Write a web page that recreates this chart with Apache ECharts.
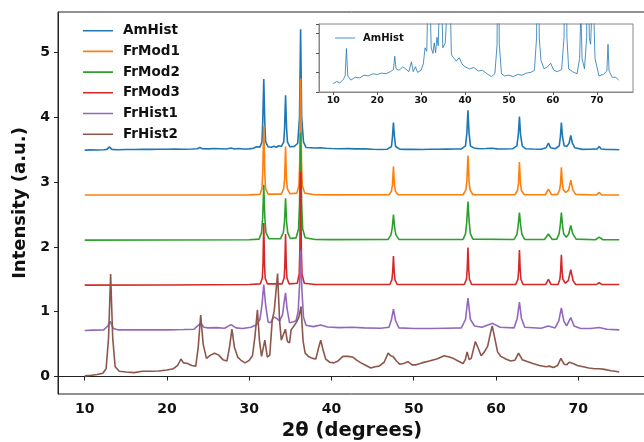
<!DOCTYPE html>
<html>
<head>
<meta charset="utf-8">
<script src="https://cdn.jsdelivr.net/npm/echarts@6/dist/echarts.min.js"></script>
<style>
html,body{margin:0;padding:0;background:#fff;}
#chart{width:644px;height:442px;}
</style>
</head>
<body>
<div id="chart"></div>
<script>
// ---- data (2θ in degrees, intensity in a.u.) ----
const seriesNames = ['AmHist','FrMod1','FrMod2','FrMod3','FrHist1','FrHist2'];
const xTicks = [10,20,30,40,50,60,70];
const yTicks = [0,1,2,3,4,5];

const AmHist = [[10,3.494],[10.8,3.497],[11.5,3.495],[12.3,3.500],[12.7,3.505],[13.0,3.544],[13.3,3.505],[14,3.499],[15,3.503],[16,3.502],[17,3.506],[18,3.505],[19,3.508],[20,3.507],[21,3.509],[22,3.508],[23,3.511],[23.7,3.514],[24.0,3.533],[24.3,3.515],[25,3.513],[25.8,3.518],[26.5,3.515],[27.2,3.511],[27.8,3.525],[28.2,3.511],[28.7,3.518],[29.2,3.510],[30,3.513],[30.5,3.522],[30.9,3.545],[31.3,3.540],[31.55,3.62],[31.64,3.90],[31.77,4.59],[31.9,3.90],[32.0,3.62],[32.3,3.545],[32.7,3.537],[33.0,3.552],[33.3,3.538],[33.6,3.560],[33.9,3.548],[34.2,3.62],[34.3,3.82],[34.42,4.34],[34.55,3.82],[34.65,3.62],[34.95,3.545],[35.5,3.552],[35.9,3.60],[36.12,4.0],[36.25,5.36],[36.38,4.0],[36.6,3.62],[36.9,3.535],[37.5,3.530],[38,3.526],[38.7,3.531],[39.3,3.522],[40,3.518],[41,3.515],[42,3.517],[43,3.512],[44,3.513],[45,3.508],[46,3.504],[46.8,3.508],[47.3,3.55],[47.42,3.70],[47.54,3.92],[47.66,3.70],[47.8,3.55],[48.3,3.508],[49,3.505],[50,3.506],[51,3.504],[52,3.507],[53,3.506],[54,3.509],[55,3.510],[55.8,3.513],[56.3,3.56],[56.47,3.76],[56.60,4.11],[56.73,3.76],[56.9,3.56],[57.3,3.527],[58,3.515],[58.8,3.518],[59.5,3.523],[60.2,3.513],[61,3.511],[62,3.514],[62.55,3.56],[62.73,3.74],[62.86,4.01],[62.99,3.74],[63.2,3.56],[63.6,3.515],[64.5,3.511],[65.5,3.508],[66.1,3.53],[66.38,3.60],[66.65,3.53],[67.2,3.515],[67.7,3.56],[67.84,3.70],[67.96,3.92],[68.1,3.70],[68.3,3.56],[68.6,3.55],[68.9,3.60],[69.10,3.72],[69.3,3.60],[69.6,3.53],[70.5,3.505],[71.5,3.507],[72.3,3.512],[72.56,3.55],[72.8,3.512],[73.5,3.503],[74.3,3.503],[75,3.499]];

const FrMod1 = [[10,2.800],[20,2.801],[30,2.803],[31.3,2.81],[31.55,2.90],[31.65,3.15],[31.77,3.87],[31.89,3.15],[31.99,2.90],[32.3,2.815],[33.9,2.815],[34.2,2.90],[34.31,3.05],[34.42,3.55],[34.53,3.05],[34.64,2.90],[34.95,2.82],[35.8,2.83],[36.05,2.95],[36.14,3.30],[36.25,4.60],[36.36,3.30],[36.45,2.95],[36.75,2.83],[38,2.805],[40,2.803],[47.0,2.805],[47.3,2.86],[47.42,2.96],[47.54,3.24],[47.66,2.96],[47.78,2.86],[48.1,2.805],[56.0,2.805],[56.35,2.88],[56.47,3.02],[56.60,3.41],[56.73,3.02],[56.85,2.88],[57.2,2.805],[62.3,2.805],[62.62,2.87],[62.74,2.98],[62.86,3.31],[62.98,2.98],[63.1,2.87],[63.45,2.805],[66.0,2.805],[66.38,2.89],[66.75,2.805],[67.5,2.81],[67.75,2.88],[67.85,2.97],[67.96,3.23],[68.08,2.97],[68.2,2.88],[68.5,2.84],[68.85,2.88],[69.10,3.03],[69.35,2.88],[69.7,2.81],[72.2,2.80],[72.56,2.84],[72.9,2.80],[75,2.80]];

const FrMod2 = [[10,2.105],[20,2.107],[30,2.11],[31.2,2.12],[31.5,2.22],[31.64,2.45],[31.77,2.96],[31.9,2.45],[32.04,2.22],[32.4,2.125],[33.8,2.125],[34.15,2.22],[34.29,2.38],[34.42,2.75],[34.55,2.38],[34.69,2.22],[35.0,2.13],[35.7,2.14],[36.0,2.28],[36.12,2.65],[36.25,3.76],[36.38,2.65],[36.5,2.28],[36.8,2.14],[38,2.115],[40,2.112],[46.9,2.115],[47.25,2.19],[47.4,2.30],[47.54,2.50],[47.68,2.30],[47.83,2.19],[48.2,2.115],[56.0,2.115],[56.3,2.20],[56.45,2.38],[56.60,2.70],[56.75,2.38],[56.9,2.20],[57.2,2.12],[62.2,2.115],[62.55,2.19],[62.7,2.32],[62.86,2.53],[63.02,2.32],[63.17,2.19],[63.5,2.115],[65.9,2.115],[66.38,2.20],[66.85,2.115],[67.4,2.12],[67.68,2.20],[67.82,2.33],[67.96,2.53],[68.1,2.33],[68.24,2.20],[68.55,2.15],[68.85,2.20],[69.10,2.33],[69.35,2.20],[69.75,2.12],[72.1,2.11],[72.56,2.15],[73.0,2.11],[75,2.11]];

const FrMod3 = [[10,1.41],[20,1.412],[30,1.42],[31.35,1.43],[31.6,1.52],[31.68,1.75],[31.77,2.37],[31.86,1.75],[31.94,1.52],[32.2,1.43],[34.0,1.43],[34.25,1.52],[34.33,1.70],[34.42,2.20],[34.51,1.70],[34.59,1.52],[34.85,1.43],[35.85,1.44],[36.08,1.58],[36.16,1.95],[36.25,3.16],[36.34,1.95],[36.42,1.58],[36.7,1.44],[38,1.42],[47.1,1.42],[47.35,1.49],[47.45,1.62],[47.54,1.86],[47.63,1.62],[47.73,1.49],[48.0,1.42],[56.15,1.42],[56.42,1.50],[56.51,1.66],[56.60,1.99],[56.69,1.66],[56.78,1.50],[57.05,1.42],[62.4,1.42],[62.68,1.50],[62.77,1.65],[62.86,1.95],[62.95,1.65],[63.04,1.50],[63.3,1.42],[66.05,1.42],[66.38,1.50],[66.7,1.42],[67.55,1.42],[67.78,1.50],[67.87,1.63],[67.96,1.88],[68.05,1.63],[68.14,1.50],[68.45,1.44],[68.8,1.48],[69.10,1.65],[69.38,1.48],[69.7,1.42],[72.25,1.42],[72.56,1.45],[72.85,1.42],[75,1.42]];

const FrHist1 = [[10,0.71],[11,0.715],[12.3,0.72],[12.8,0.78],[13.1,0.85],[13.5,0.74],[14,0.72],[16,0.72],[18,0.722],[20,0.72],[22,0.725],[23.3,0.73],[23.8,0.79],[24.1,0.82],[24.5,0.76],[25,0.75],[26,0.755],[27,0.745],[27.8,0.80],[28.4,0.75],[29.2,0.74],[30.2,0.76],[30.9,0.80],[31.3,0.88],[31.55,1.10],[31.77,1.42],[32.0,1.10],[32.3,0.84],[32.6,0.83],[33.0,0.92],[33.3,0.90],[33.7,0.86],[34.05,0.95],[34.25,1.15],[34.42,1.29],[34.6,1.05],[34.9,0.83],[35.3,0.84],[35.7,0.86],[35.95,1.0],[36.12,1.40],[36.25,1.95],[36.4,1.35],[36.6,0.92],[36.9,0.79],[37.8,0.77],[38.7,0.795],[39.5,0.765],[41,0.755],[42.5,0.76],[44,0.75],[46,0.745],[47.0,0.76],[47.3,0.88],[47.54,1.04],[47.8,0.86],[48.2,0.75],[50,0.74],[52,0.74],[54,0.745],[55.8,0.75],[56.3,0.88],[56.6,1.21],[56.9,0.88],[57.4,0.78],[58.3,0.76],[59.6,0.82],[60.5,0.76],[62.2,0.75],[62.6,0.90],[62.86,1.15],[63.1,0.90],[63.5,0.76],[65.5,0.745],[66.38,0.78],[67.2,0.75],[67.65,0.86],[67.96,1.06],[68.25,0.86],[68.6,0.78],[69.1,0.91],[69.5,0.78],[70.3,0.74],[71.5,0.74],[72.56,0.755],[73.5,0.73],[75,0.72]];

const FrHist2 = [[10,0.01],[10.8,0.02],[11.5,0.03],[12.2,0.05],[12.6,0.12],[12.9,0.6],[13.15,1.58],[13.4,0.6],[13.7,0.15],[14.2,0.08],[15,0.07],[16,0.06],[17,0.08],[18,0.08],[19,0.085],[20,0.10],[20.8,0.12],[21.3,0.17],[21.7,0.27],[22.0,0.21],[22.5,0.20],[23.0,0.17],[23.5,0.16],[23.8,0.45],[24.1,0.95],[24.4,0.50],[24.8,0.28],[25.3,0.33],[25.8,0.36],[26.3,0.33],[26.8,0.26],[27.3,0.24],[27.6,0.45],[27.9,0.73],[28.2,0.45],[28.6,0.30],[29.0,0.25],[29.5,0.21],[30.0,0.25],[30.4,0.32],[30.7,0.62],[31.0,1.03],[31.25,0.55],[31.5,0.31],[31.9,0.56],[32.2,0.30],[32.5,0.33],[32.8,0.87],[33.05,1.02],[33.45,1.59],[33.7,0.85],[33.9,0.56],[34.1,0.63],[34.4,0.73],[34.65,0.54],[34.9,0.52],[35.1,0.72],[35.5,0.79],[35.8,0.85],[36.05,0.92],[36.3,1.08],[36.55,0.55],[36.8,0.36],[37.2,0.31],[37.7,0.28],[38.1,0.27],[38.45,0.45],[38.7,0.56],[39.0,0.40],[39.3,0.27],[39.8,0.22],[40.3,0.21],[40.8,0.24],[41.4,0.31],[42.0,0.31],[42.6,0.30],[43.1,0.25],[43.6,0.21],[44.2,0.17],[44.8,0.13],[45.3,0.15],[45.8,0.16],[46.4,0.22],[46.9,0.36],[47.2,0.32],[47.5,0.31],[47.9,0.24],[48.3,0.19],[48.8,0.20],[49.3,0.23],[49.8,0.18],[50.3,0.18],[51.0,0.21],[51.9,0.24],[52.8,0.27],[53.7,0.32],[54.3,0.30],[54.8,0.28],[55.4,0.24],[56.0,0.20],[56.3,0.27],[56.5,0.38],[56.75,0.26],[57.0,0.28],[57.5,0.54],[57.9,0.42],[58.2,0.32],[58.6,0.38],[59.0,0.47],[59.3,0.65],[59.55,0.78],[59.85,0.60],[60.2,0.38],[60.6,0.31],[61.2,0.27],[61.8,0.24],[62.3,0.25],[62.75,0.36],[63.2,0.26],[63.8,0.23],[64.5,0.20],[65.3,0.17],[66.1,0.15],[66.5,0.16],[67.0,0.14],[67.5,0.17],[67.9,0.28],[68.3,0.19],[68.6,0.18],[68.9,0.22],[69.4,0.20],[69.9,0.17],[70.6,0.15],[71.3,0.13],[72.0,0.12],[72.6,0.12],[73.2,0.11],[74.0,0.09],[74.5,0.08],[75,0.07]];

const allData = [AmHist, FrMod1, FrMod2, FrMod3, FrHist1, FrHist2];
const colors = ['#1f77b4','#ff7f0e','#2ca02c','#d62728','#9467bd','#8c564b'];

const FONT = 'DejaVu Sans';
const chart = echarts.init(document.getElementById('chart'), null, {renderer:'canvas'});

const mainSeries = seriesNames.map((n, i) => ({
  name: n, type: 'line', xAxisIndex: 0, yAxisIndex: 0,
  data: allData[i], symbol: 'none', showSymbol: false,
  lineStyle: {color: colors[i], width: 1.6}, itemStyle: {color: colors[i]},
  animation: false, z: 2 + i
}));

const insetSeries = {
  name: 'AmHist', type: 'line', xAxisIndex: 1, yAxisIndex: 1,
  data: AmHist, symbol: 'none', showSymbol: false, clip: true,
  lineStyle: {color: 'rgba(31,119,180,0.8)', width: 1}, itemStyle: {color: 'rgba(31,119,180,0.8)'},
  animation: false, z: 20
};

// thin horizontal line legend markers (tiny corner dots fix the icon box)
const mainIcon = 'path://M0,0h0.01v0.01h-0.01z M0,6.2h30v1.6h-30z M29.99,13.99h0.01v0.01h-0.01z';
const insetIcon = 'path://M0,0h0.01v0.01h-0.01z M0,4.5h20v1h-20z M19.99,9.99h0.01v0.01h-0.01z';

const option = {
  backgroundColor: '#fff',
  animation: false,
  grid: [
    {left: 58, top: 12, width: 588, height: 382, show: true, borderColor: '#222', borderWidth: 1, backgroundColor: 'transparent', containLabel: false, outerBoundsMode: 'none'},
    {left: 319, top: 24, width: 314, height: 68, show: true, borderColor: '#888', borderWidth: 1, backgroundColor: '#fff', containLabel: false, outerBoundsMode: 'none', z: 10}
  ],
  xAxis: [
    {type: 'value', gridIndex: 0, min: 6.75, max: 78.25, splitLine: {show: false},
     axisLine: {lineStyle: {color: '#222', width: 1}},
     axisTick: {show: true, length: 4, customValues: xTicks, lineStyle: {color: '#222'}},
     axisLabel: {customValues: xTicks, margin: 8, fontFamily: FONT, fontWeight: 'bold', fontSize: 14, color: '#111'},
     name: '2θ (degrees)', nameLocation: 'middle', nameGap: 27,
     nameTextStyle: {fontFamily: FONT, fontWeight: 'bold', fontSize: 19.5, color: '#111'}},
    {type: 'value', gridIndex: 1, min: 6.75, max: 78.25, splitLine: {show: false},
     axisLine: {lineStyle: {color: '#888', width: 1}},
     axisTick: {show: true, length: 3, customValues: xTicks, lineStyle: {color: '#555'}},
     axisLabel: {customValues: xTicks, margin: 4, fontFamily: FONT, fontWeight: 'bold', fontSize: 9.5, color: '#111'},
     z: 10}
  ],
  yAxis: [
    {type: 'value', gridIndex: 0, min: -0.27, max: 5.625, splitLine: {show: false},
     axisLine: {show: true, lineStyle: {color: '#222', width: 1}},
     axisTick: {show: true, length: 4, customValues: yTicks, lineStyle: {color: '#222'}},
     axisLabel: {customValues: yTicks, margin: 8, fontFamily: FONT, fontWeight: 'bold', fontSize: 14, color: '#111'},
     name: 'Intensity (a.u.)', nameLocation: 'middle', nameGap: 26,
     nameTextStyle: {fontFamily: FONT, fontWeight: 'bold', fontSize: 18, color: '#111'}},
    {type: 'value', gridIndex: 1, min: 3.482, max: 3.579, interval: 0.02786, splitLine: {show: false},
     axisLine: {show: true, lineStyle: {color: '#888', width: 1}},
     axisTick: {show: true, length: 3, lineStyle: {color: '#555'}},
     axisLabel: {show: false}, z: 10}
  ],
  legend: [
    {orient: 'vertical', left: 83, top: 23.7, padding: 0, itemWidth: 30, itemHeight: 14, itemGap: 6.7,
     icon: mainIcon, data: seriesNames, selectedMode: false,
     textStyle: {fontFamily: FONT, fontWeight: 'bold', fontSize: 13.5, color: '#111', padding: [0,0,0,5]}},
    {orient: 'vertical', left: 335, top: 33, padding: 0, itemWidth: 20, itemHeight: 10, selectedMode: false,
     icon: insetIcon,
     data: [{name: 'AmHist', itemStyle: {color: 'rgba(31,119,180,0.8)'}}],
     textStyle: {fontFamily: FONT, fontWeight: 'bold', fontSize: 10, color: '#111', padding: [0,0,0,3]}, z: 12}
  ],
  series: mainSeries.concat([insetSeries])
};
chart.setOption(option);
</script>
</body>
</html>
